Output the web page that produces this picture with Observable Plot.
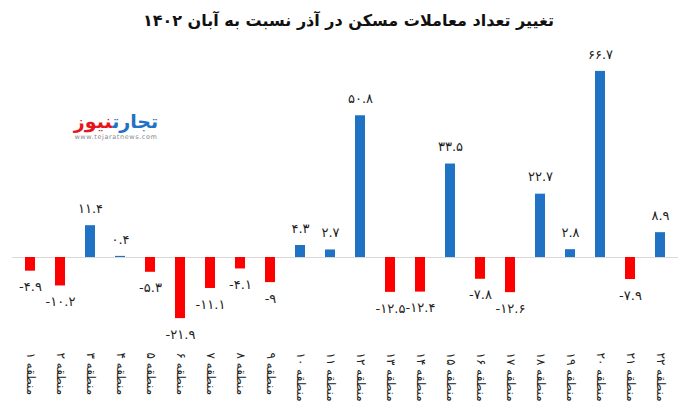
<!DOCTYPE html>
<html>
<head>
<meta charset="utf-8">
<script src="https://cdn.jsdelivr.net/npm/d3@7"></script>
<script src="https://cdn.jsdelivr.net/npm/@observablehq/plot@0.6"></script>
<style>
  body { margin: 0; background: #fff; font-family: "DejaVu Sans", sans-serif; }
  #wrap { position: relative; width: 697px; height: 412px; overflow: hidden; }
  #title { height: 40px; line-height: 42px; text-align: center; font-size: 16px; font-weight: bold; color: #111; direction: rtl; }
  #logo { position: absolute; left: 66px; top: 110px; width: 100px; text-align: center; }
  #logo .name { direction: rtl; font-size: 19px; font-weight: bold; line-height: 22px; }
  #logo .url { font-size: 6.5px; color: #888; letter-spacing: 0.6px; line-height: 10px; }
</style>
</head>
<body>
<div id="wrap">
  <div id="title">تغییر تعداد معاملات مسکن در آذر نسبت به آبان ۱۴۰۲</div>
  <div id="logo"><div class="name"><span style="color:#1f72c4">تجارت</span><span style="color:#e8141c">نیوز</span></div><div class="url">www.tejaratnews.com</div></div>
  <div id="chart"></div>
</div>
<script>
const districts = ["منطقه ۱","منطقه ۲","منطقه ۳","منطقه ۴","منطقه ۵","منطقه ۶","منطقه ۷","منطقه ۸","منطقه ۹","منطقه ۱۰","منطقه ۱۱","منطقه ۱۲","منطقه ۱۳","منطقه ۱۴","منطقه ۱۵","منطقه ۱۶","منطقه ۱۷","منطقه ۱۸","منطقه ۱۹","منطقه ۲۰","منطقه ۲۱","منطقه ۲۲"];
const changes = [-4.9,-10.2,11.4,0.4,-5.3,-21.9,-11.1,-4.1,-9,4.3,2.7,50.8,-12.5,-12.4,33.5,-7.8,-12.6,22.7,2.8,66.7,-7.9,8.9];

const faDigits = "۰۱۲۳۴۵۶۷۸۹";
const fa = v => String(v).replace(/[0-9]/g, d => faDigits[+d]);
const data = districts.map((d, i) => ({district: d, value: changes[i]}));

const chart = Plot.plot({
  width: 697,
  height: 372,
  marginLeft: 12,
  marginRight: 19,
  marginTop: 20,
  marginBottom: 67,
  style: {fontFamily: "DejaVu Sans, sans-serif", background: "transparent"},
  x: {domain: districts, range: [12, 678], paddingInner: 0.67, paddingOuter: 0.335, label: null},
  y: {domain: [-30, 70], range: [300.7, 21.7], axis: null},
  marks: [
    Plot.ruleY([0], {stroke: "#d9d9d9", strokeWidth: 1}),
    Plot.barY(data, {x: "district", y: "value", fill: d => d.value >= 0 ? "#1f72c4" : "#ff0000"}),
    Plot.text(data.filter(d => d.value >= 0), {x: "district", y: "value", text: d => fa(d.value), dy: -17, lineAnchor: "middle", fontSize: 13, fill: "#222"}),
    Plot.text(data.filter(d => d.value < 0), {x: "district", y: "value", text: d => fa(d.value), dy: 16, lineAnchor: "middle", fontSize: 13, fill: "#222"}),
    Plot.axisX({tickRotate: 90, tickSize: 0, tickPadding: 7, textAnchor: "start", lineAnchor: "middle", fontSize: 12, fill: "#222", label: null})
  ]
});
chart.style.display = "block";
document.getElementById("chart").appendChild(chart);
</script>
</body>
</html>
